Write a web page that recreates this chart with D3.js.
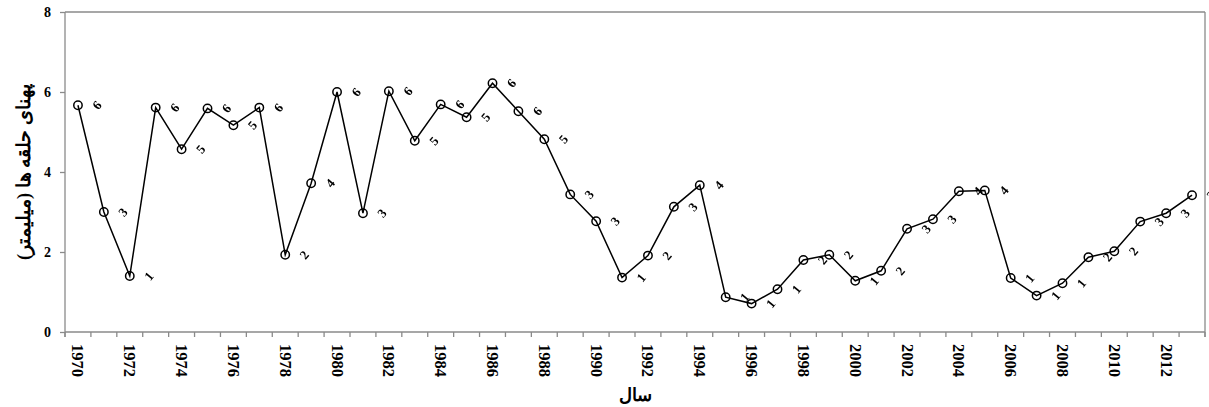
<!DOCTYPE html>
<html>
<head>
<meta charset="utf-8">
<script src="https://cdn.jsdelivr.net/npm/d3@7/dist/d3.min.js"></script>
<style>
  html, body { margin: 0; padding: 0; background: #fff; }
  svg { display: block; }
</style>
</head>
<body>
<svg id="chart" width="1209" height="407"></svg>
<script>
// ---- data ----
const years = [1970,1971,1972,1973,1974,1975,1976,1977,1978,1979,
               1980,1981,1982,1983,1984,1985,1986,1987,1988,1989,
               1990,1991,1992,1993,1994,1995,1996,1997,1998,1999,
               2000,2001,2002,2003,2004,2005,2006,2007,2008,2009,
               2010,2011,2012,2013];
const ringWidth = [5.67,3.00,1.40,5.61,4.57,5.59,5.17,5.61,1.93,3.72,
                   6.00,2.97,6.02,4.78,5.69,5.37,6.22,5.52,4.82,3.44,
                   2.77,1.36,1.91,3.13,3.67,0.87,0.71,1.07,1.80,1.93,
                   1.28,1.53,2.58,2.82,3.52,3.54,1.35,0.91,1.22,1.87,
                   2.02,2.76,2.97,3.42];
const pointLabels = ["6","3","1","6","5","6","5","6","2","4",
                     "6","3","6","5","6","5","6","6","5","3",
                     "3","1","2","3","4","1","1","1","2","2",
                     "1","2","3","3","4","4","1","1","1","2",
                     "2","3","3","3"];
const yTicks = [0,2,4,6,8];
const xTickLabels = years.filter(y => y % 2 === 0);
const yTitle = "پهنای حلقه ها (میلیمتر)";
const xTitle = "سال";

// ---- layout ----
const W = 1209, H = 407;
const m = {left: 65, top: 12, right: 4, bottom: 75};
const svg = d3.select("#chart");
const axisColor = "#8a8a8a";
const serif = "'Times New Roman','Liberation Serif',serif";

const x = d3.scaleBand().domain(years).range([m.left, W - m.right]).padding(0);
const y = d3.scaleLinear().domain([0, 8]).range([H - m.bottom, m.top]);
const x0 = m.left, x1 = W - m.right, yb = y(0), yt = y(8);

// frame (top + right)
svg.append("line").attr("x1", x0).attr("x2", x1).attr("y1", yt).attr("y2", yt)
   .attr("stroke", axisColor).attr("stroke-width", 1.3);
svg.append("line").attr("x1", x1).attr("x2", x1).attr("y1", yt).attr("y2", yb + 5)
   .attr("stroke", axisColor).attr("stroke-width", 1.3);

// y axis
const yAxis = svg.append("g").attr("transform", `translate(${x0},0)`)
  .call(d3.axisLeft(y).tickValues(yTicks).tickSize(5).tickPadding(9).tickFormat(d3.format("d")));
yAxis.select(".domain").attr("stroke", axisColor).attr("stroke-width", 1.3)
  .attr("d", `M0,${yt}V${yb + 5}`);
yAxis.selectAll(".tick line").attr("stroke", axisColor).attr("stroke-width", 1.3);
yAxis.selectAll(".tick text").attr("font-family", serif).attr("font-weight", "bold")
  .attr("font-size", 14).attr("fill", "#000");

// x axis: ticks at band boundaries
const bounds = years.map(d => x(d)).concat([x1]);
svg.append("line").attr("x1", x0).attr("x2", x1).attr("y1", yb).attr("y2", yb)
   .attr("stroke", axisColor).attr("stroke-width", 1.3);
svg.append("g").selectAll("line").data(bounds).join("line")
   .attr("x1", d => d).attr("x2", d => d).attr("y1", yb).attr("y2", yb + 5)
   .attr("stroke", axisColor).attr("stroke-width", 1.3);
svg.append("g").selectAll("text").data(xTickLabels).join("text")
   .attr("transform", d => `translate(${x(d) + x.bandwidth() / 2},${yb + 12}) rotate(90)`)
   .attr("text-anchor", "start").attr("dominant-baseline", "central")
   .attr("font-family", serif).attr("font-weight", "bold").attr("font-size", 16.5)
   .attr("fill", "#000").text(d => d);

// line
const cx = i => x(years[i]) + x.bandwidth() / 2;
const line = d3.line().x((d, i) => cx(i)).y(d => y(d));
svg.append("path").datum(ringWidth).attr("d", line)
   .attr("fill", "none").attr("stroke", "#000").attr("stroke-width", 1.5);

// markers
svg.append("g").selectAll("circle").data(ringWidth).join("circle")
   .attr("cx", (d, i) => cx(i)).attr("cy", d => y(d)).attr("r", 4.2)
   .attr("fill", "none").attr("stroke", "#000").attr("stroke-width", 1.5);

// point labels (group opacity avoids coloured sub-pixel fringes on rotated text)
svg.append("g").attr("opacity", 0.999).selectAll("text").data(ringWidth).join("text")
   .attr("transform", (d, i) => `translate(${cx(i) + 19},${y(d)}) rotate(-50)`)
   .attr("text-anchor", "middle").attr("dominant-baseline", "central")
   .attr("font-family", serif).attr("font-weight", "bold").attr("font-size", 13)
   .attr("fill", "#000")
   .text((d, i) => pointLabels[i]);

// titles
svg.append("text")
   .attr("transform", `translate(24,${(yt + yb) / 2}) rotate(-90)`)
   .attr("text-anchor", "middle").attr("dominant-baseline", "central")
   .attr("font-family", serif).attr("font-weight", "bold").attr("font-size", 18.5)
   .attr("fill", "#000").text(yTitle);
svg.append("text")
   .attr("x", (x0 + x1) / 2).attr("y", 395)
   .attr("text-anchor", "middle").attr("dominant-baseline", "central")
   .attr("font-family", serif).attr("font-weight", "bold").attr("font-size", 18)
   .attr("fill", "#000").text(xTitle);
</script>
</body>
</html>
